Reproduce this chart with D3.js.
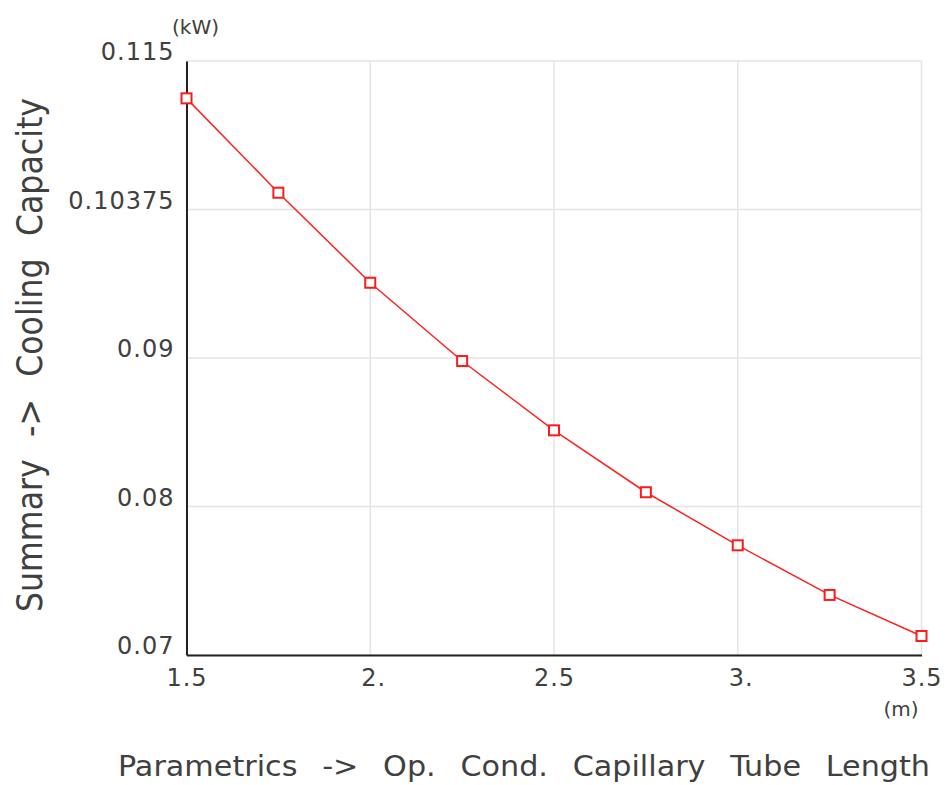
<!DOCTYPE html>
<html>
<head>
<meta charset="utf-8">
<script src="https://cdn.jsdelivr.net/npm/d3@7"></script>
<style>
  body { margin: 0; background: #fff; }
  text { font-family: "DejaVu Sans", sans-serif; fill: #404040; }
</style>
</head>
<body>
<div id="chart"></div>
<script>
// capillary tube length (m)
const tubeLength = [1.5, 1.75, 2.0, 2.25, 2.5, 2.75, 3.0, 3.25, 3.5];
// cooling capacity (kW)
const coolingCapacity = [0.11217, 0.10502, 0.0982, 0.09227, 0.08702, 0.08233, 0.07831, 0.07455, 0.07144];

const xTickValues = [1.5, 2, 2.5, 3, 3.5];
const xTickLabels = ["1.5", "2.", "2.5", "3.", "3.5"];
const yTickValues = [0.07, 0.08125, 0.0925, 0.10375, 0.115];
const yTickLabels = ["0.07", "0.08", "0.09", "0.10375", "0.115"];

// set the dimensions and margins of the graph
const margin = { top: 61, right: 25.5, bottom: 130, left: 186.5 },
  width = 947 - margin.left - margin.right,
  height = 785 - margin.top - margin.bottom;

const svg = d3
  .select("#chart")
  .append("svg")
  .attr("width", 947)
  .attr("height", 785)
  .append("g")
  .attr("transform", `translate(${margin.left},${margin.top})`);

const x = d3.scaleLinear().domain([1.5, 3.5]).range([0, width]);
const y = d3.scaleLinear().domain([0.07, 0.115]).range([height, 0]);

// grid lines
svg
  .selectAll(".vgrid")
  .data(xTickValues)
  .join("line")
  .attr("x1", (d) => x(d))
  .attr("x2", (d) => x(d))
  .attr("y1", 0)
  .attr("y2", height)
  .style("stroke", "#e4e4e4")
  .style("stroke-width", 1.5);
svg
  .selectAll(".hgrid")
  .data(yTickValues)
  .join("line")
  .attr("x1", 0)
  .attr("x2", width)
  .attr("y1", (d) => y(d))
  .attr("y2", (d) => y(d))
  .style("stroke", "#e4e4e4")
  .style("stroke-width", 1.5);

// X axis
const xAxis = svg
  .append("g")
  .attr("transform", `translate(0,${height})`)
  .call(
    d3
      .axisBottom(x)
      .tickValues(xTickValues)
      .tickSize(0)
      .tickPadding(14)
      .tickFormat((d, i) => xTickLabels[i])
  );
xAxis.select(".domain").style("stroke", "#222").style("stroke-width", 2);
xAxis
  .selectAll("text")
  .style("font-size", "24px")
  .style("fill", "#404040")
  .style("font-family", "DejaVu Sans")
  .style("letter-spacing", "1px")
  .attr("dx", (d, i) => (xTickLabels[i].endsWith(".") ? 3 : 0));

// Y axis
const yAxis = svg.append("g").call(
  d3
    .axisLeft(y)
    .tickValues(yTickValues)
    .tickSize(0)
    .tickPadding(12)
    .tickFormat((d, i) => yTickLabels[i])
);
yAxis.select(".domain").style("stroke", "#222").style("stroke-width", 2);
yAxis
  .selectAll("text")
  .style("font-size", "24px")
  .style("fill", "#404040")
  .style("font-family", "DejaVu Sans")
  .style("letter-spacing", "1px")
  .attr("dy", "-0.05em");

// the line
const data = tubeLength.map((d, i) => ({ len: d, cap: coolingCapacity[i] }));
svg
  .append("path")
  .datum(data)
  .attr("fill", "none")
  .attr("stroke", "#ff2020")
  .attr("stroke-width", 1.5)
  .attr(
    "d",
    d3
      .line()
      .x((d) => x(d.len))
      .y((d) => y(d.cap))
  );

// square markers
const s = 10;
svg
  .selectAll(".marker")
  .data(data)
  .join("rect")
  .attr("class", "marker")
  .attr("x", (d) => x(d.len) - s / 2)
  .attr("y", (d) => y(d.cap) - s / 2)
  .attr("width", s)
  .attr("height", s)
  .attr("fill", "#fff")
  .attr("stroke", "#ff1a1a")
  .attr("stroke-width", 2);

// units
svg
  .append("text")
  .attr("x", 172 - margin.left)
  .attr("y", 34 - margin.top)
  .style("font-size", "20px")
  .text("(kW)");
svg
  .append("text")
  .attr("x", 901 - margin.left)
  .attr("y", 716 - margin.top)
  .attr("text-anchor", "middle")
  .style("font-size", "20px")
  .text("(m)");

// axis titles
svg
  .append("text")
  .attr("x", 118 - margin.left)
  .attr("y", 776 - margin.top)
  .attr("textLength", 812)
  .attr("lengthAdjust", "spacingAndGlyphs")
  .style("font-size", "28px")
  .style("word-spacing", "14px")
  .text("Parametrics -> Op. Cond. Capillary Tube Length");

svg
  .append("text")
  .attr("transform", `translate(${42 - margin.left},${612 - margin.top}) rotate(-90)`)
  .attr("textLength", 514)
  .attr("lengthAdjust", "spacingAndGlyphs")
  .style("font-size", "36px")
  .style("word-spacing", "14px")
  .text("Summary -> Cooling Capacity");
</script>
</body>
</html>
